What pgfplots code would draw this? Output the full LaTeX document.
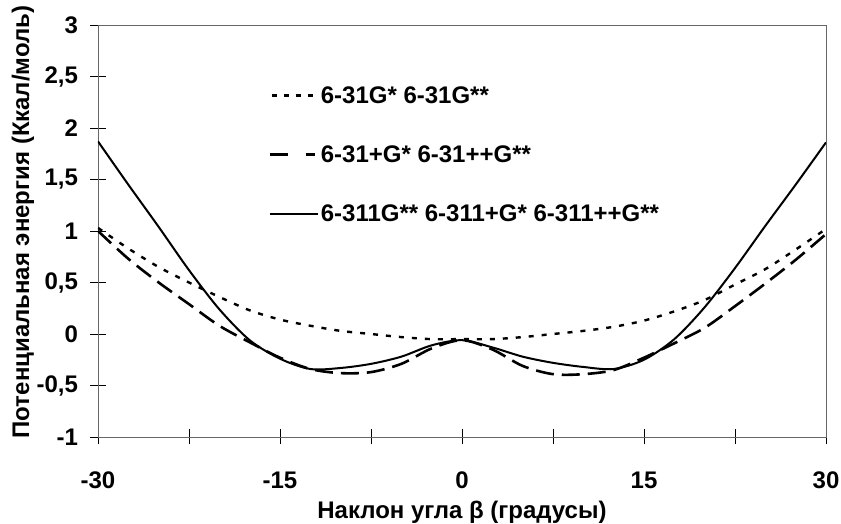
\documentclass[border=0pt]{standalone}
\usepackage{pgfplots}
\pgfplotsset{compat=1.18}
\usepackage{fontspec}
\setmainfont{Liberation Sans}
\newcommand{\bigf}{\bfseries\fontsize{24}{26}\selectfont}
\begin{document}
\begin{tikzpicture}
\useasboundingbox (-98pt,-87pt) rectangle (743pt,437pt);
\begin{axis}[
  scale only axis,
  width=728pt, height=412pt,
  at={(0,0)}, anchor=south west,
  xmin=-30, xmax=30, ymin=-1, ymax=3,
  axis line style={gray!80!black, line width=0.8pt},
  xtick={-30,-22.5,...,30},
  xticklabels={-30,,-15,,0,,15,,30},
  ytick={-1,-0.5,...,3},
  yticklabels={-1,{-0,5},0,{0,5},1,{1,5},2,{2,5},3},
  xtick pos=bottom, ytick pos=left,
  tick align=center,
  major tick length=15pt,
  tick style={black, line width=0.8pt},
  tick label style={font=\bigf},
  xticklabel style={anchor=center, yshift=-36pt},
  yticklabel style={anchor=east, xshift=-9pt},
  label style={font=\bigf},
  xlabel={Наклон угла β (градусы)},
  ylabel={Потенциальная энергия (Ккал/моль)},
  xlabel style={at={(axis description cs:0.5,0)}, anchor=center, yshift=-75pt},
  ylabel style={at={(axis description cs:0,0.5)}, anchor=center, rotate=0, yshift=75pt, xshift=9pt},
  legend style={at={(0.234,0.856)}, anchor=north west, draw=none, fill=none,
    font=\bigf, row sep=37pt,
    inner sep=0pt, outer sep=0pt},
  legend cell align=left,
  legend image code/.code={\draw[#1] (0pt,0pt) -- (48pt,0pt);},
]
\addplot[black, line width=2.4pt, dash pattern=on 5pt off 8pt, smooth,
  legend image code/.code={\draw[black, line width=2.4pt, dash pattern=on 5pt off 7pt] (2pt,0pt) -- (48pt,0pt);}] coordinates {
(-30,1.03) (-27.5,0.83) (-25,0.65) (-22.5,0.50) (-20,0.36) (-17.5,0.23) (-15,0.14)
(-12.5,0.08) (-10,0.03) (-7.5,0.00) (-5,-0.03) (-2.5,-0.05) (0,-0.05) (2.5,-0.05)
(5,-0.03) (7.5,0.00) (10,0.03) (12.5,0.07) (15,0.13) (17.5,0.22) (20,0.33)
(22.5,0.48) (25,0.63) (27.5,0.82) (30,1.02)};
\addlegendentry{6-31G* 6-31G**}
\addplot[black, line width=2.6pt, dash pattern=on 18pt off 8pt, smooth,
  legend image code/.code={\draw[black, line width=2.6pt] (0pt,0pt) -- (21pt,0pt) (36pt,0pt) -- (45pt,0pt);}] coordinates {
(-30,1.00) (-27.5,0.73) (-25,0.50) (-22.5,0.29) (-20,0.08) (-17.5,-0.08) (-15,-0.23)
(-12.5,-0.34) (-10,-0.38) (-7.5,-0.37) (-5,-0.29) (-2.5,-0.14) (0,-0.06) (2.5,-0.15)
(5,-0.31) (7.5,-0.39) (10,-0.39) (12.5,-0.35) (15,-0.23) (17.5,-0.09) (20,0.06)
(22.5,0.27) (25,0.49) (27.5,0.72) (30,0.97)};
\addlegendentry{6-31+G* 6-31++G**}
\addplot[black, line width=2pt, smooth,
  legend image code/.code={\draw[black, line width=2.2pt] (0pt,0pt) -- (48pt,0pt);}] coordinates {
(-30,1.87) (-27.5,1.45) (-25,1.04) (-22.5,0.62) (-20,0.24) (-17.5,-0.06) (-15,-0.24)
(-12.5,-0.34) (-10,-0.33) (-7.5,-0.29) (-5,-0.22) (-2.5,-0.11) (0,-0.06) (2.5,-0.13)
(5,-0.22) (7.5,-0.28) (10,-0.32) (12.5,-0.34) (15,-0.25) (17.5,-0.05) (20,0.26)
(22.5,0.64) (25,1.05) (27.5,1.45) (30,1.86)};
\addlegendentry{6-311G** 6-311+G* 6-311++G**}
\end{axis}
\end{tikzpicture}
\end{document}
